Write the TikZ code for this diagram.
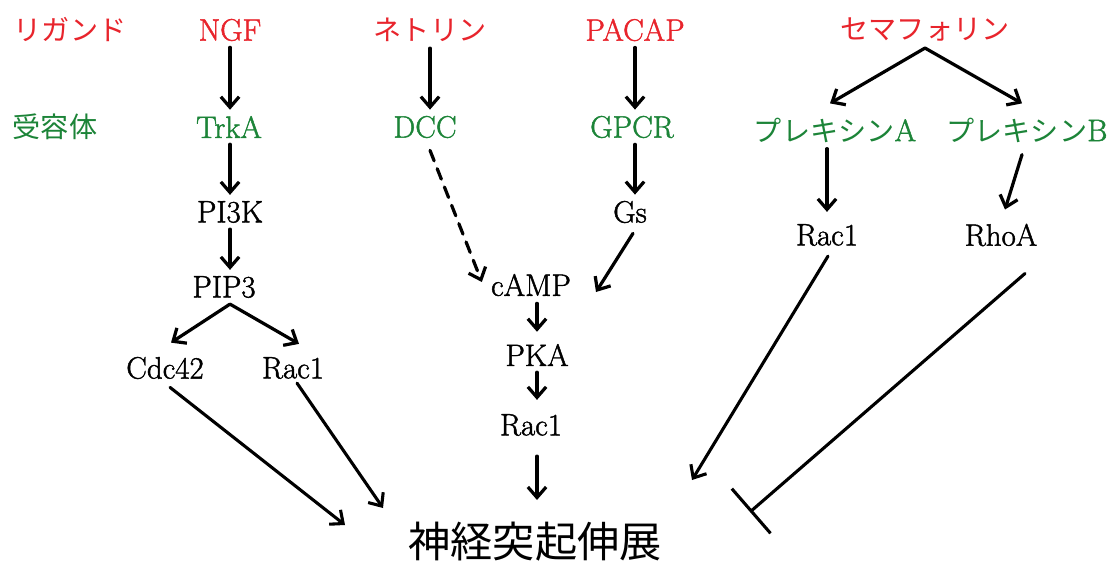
\documentclass[tikz,border=0pt]{standalone}
\usepackage{fontspec}
\setmainfont{Latin Modern Roman}[FakeBold=1.5]
\newfontfamily\jp{Noto Sans CJK JP}
\newcommand\jps{\fontsize{20}{24}\selectfont\jp}
\usetikzlibrary{arrows.meta,calc,positioning}
\definecolor{ligred}{RGB}{232,36,44}
\definecolor{recgreen}{RGB}{28,132,56}
\tikzstyle{every node}=[font=\fontsize{22}{26}\selectfont]
\tikzstyle{every path}=[line width=2.3pt,line cap=round,line join=round]
\tikzstyle{ligand}=[text=ligred]
\tikzstyle{receptor}=[text=recgreen]
\tikzstyle{act}=[-{Straight Barb[length=7.5pt,width=13pt]}]
\tikzstyle{longact}=[act,line width=2.2pt]
\tikzstyle{inh}=[-{Bar[width=42pt]},line width=2.2pt]

\begin{document}
\begin{tikzpicture}[x=0.025cm,y=-0.025cm]
  \useasboundingbox (0,0) rectangle (1111,565);
  % ligands
  \node[ligand] (ligL) at (70,30) {\jps リガンド};
  \node[ligand] (NGF) at (230,30) {NGF};
  \node[ligand] (netrin) at (430,30) {\jps ネトリン};
  \node[ligand] (PACAP) at (635,30) {PACAP};
  \node[ligand] (sema) at (925,30) {\jps セマフォリン};
  % receptors
  \node[receptor] (recL) at (55,127) {\jps 受容体};
  \node[receptor] (TrkA) at (229,127) {TrkA};
  \node[receptor] (DCC) at (425,127) {DCC};
  \node[receptor] (GPCR) at (632,127) {GPCR};
  \node[receptor] (plexA) at (835,130) {{\jps プレキシン}A};
  \node[receptor] (plexB) at (1027,130) {{\jps プレキシン}B};
  % NGF path
  \node (PI3K) at (230,212) {PI3K};
  \node (PIP3) at (224,287) {PIP3};
  \node (Cdc42) at (165,368) {Cdc42};
  \node (RacL) at (293,368) {Rac1};
  % cAMP path
  \node (Gs) at (630,212) {Gs};
  \node (cAMP) at (531,285) {cAMP};
  \node (PKA) at (537,355) {PKA};
  \node (RacM) at (531,425) {Rac1};
  % semaphorin path
  \node (RacR) at (827,235) {Rac1};
  \node (RhoA) at (1001,235) {RhoA};
  % goal
  \node[font=\fontsize{30}{34}\selectfont\jp] (neurite) at (535,542) {神経突起伸展};

  \coordinate (endC) at (345,525);
  \coordinate (endR) at (383,508);
  \coordinate (endM) at (537,500);
  \coordinate (endS) at (692,480);
  \coordinate (endB) at (750,512);
  \coordinate (endG) at (596,292);

  \draw[act] (NGF.south) -- (NGF.south |- TrkA.north);
  \draw[act] (NGF.south |- TrkA.south) -- (PI3K);
  \draw[act] (PI3K.south) -- (PI3K.south |- PIP3.north);
  \draw[act] ($(PIP3.south)+(6,0)$) -- ($(Cdc42.north)+(6,-8)$);
  \draw[act] ($(PIP3.south)+(6,0)$) -- ($(RacL.north)+(6,-7)$);
  \draw[longact] ($(Cdc42.south)+(5,2)$) -- (endC);
  \draw[longact] ($(RacL.south)+(4,-2)$) -- (endR);
  \draw[act] (netrin.south) -- (netrin.south |- DCC.north);
  \draw[act,dash pattern=on 8pt off 6pt] ($(DCC.south)+(5,6)$) -- ($(cAMP.west)+(-3,-3)$);
  \draw[act] (PACAP.south) -- (PACAP.south |- GPCR.north);
  \draw[act] (PACAP.south |- GPCR.south) -- (PACAP.south |- Gs.north);
  \draw[act] ($(Gs.south)+(3,4)$) -- (endG);
  \draw[act] ($(cAMP.south)+(6,1)$) -- ($(PKA.north)+(0,-6)$);
  \draw[act] (PKA.south) -- ($(PKA.south |- RacM.north)+(0,-8)$);
  \draw[act] ($(RacM.south)+(6,14)$) -- (endM);
  \draw[act] (sema.south) -- ($(plexA.north)+(-5,-8)$);
  \draw[act] (sema.south) -- ($(plexB.north)+(-5,-8)$);
  \draw[act] (RacR |- plexA.south) -- ($(RacR.north)+(0,-6)$);
  \draw[act] ($(plexB.south)+(-5,6)$) -- ($(RhoA.north)+(4,-8)$);
  \draw[longact] ($(RacR.south)+(1,4)$) -- (endS);
  \draw[inh] ($(RhoA.south)+(24,21)$) -- (endB);
\end{tikzpicture}
\end{document}
